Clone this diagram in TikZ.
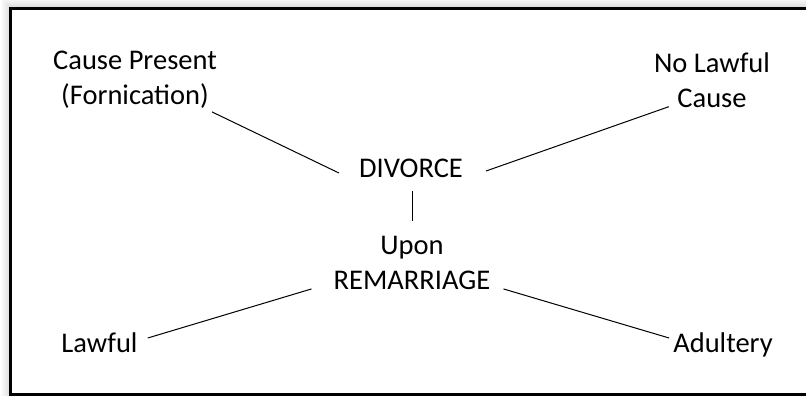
\documentclass[tikz,border=0pt]{standalone}
\usepackage{fontspec}
\setmainfont{Carlito}
\usetikzlibrary{calc}
\begin{document}
\begin{tikzpicture}[x=1pt,y=-1pt,
  lbl/.style={inner sep=0pt, align=center, font=\fontsize{28.5}{35}\selectfont},
  conn/.style={line width=1pt, black}]
\useasboundingbox (0,0) rectangle (806,396);
\fill[white] (0,0) rectangle (806,396);
\foreach \i in {10,...,1}{\pgfmathsetmacro\g{(11-\i)*1.4}
  \fill[black!\g] (10.5-\i,8.5-\i) rectangle (830,420);}
\fill[white] (10.5,8.5) rectangle (830,420);
\draw[line width=3pt] (10.5,8.5) rectangle (830,394.5);
% nodes
\node[lbl] (cp) at (135,80) {Cause Present\\(Fornication)};
\node[lbl] (nl) at (712,80) {No Lawful\\Cause};
\node[lbl, anchor=base] (div) at (411,177) {DIVORCE};
\node[lbl] (rem) at (412,263) {Upon\\REMARRIAGE};
\node[lbl, anchor=base] (law) at (99.5,352) {Lawful};
\node[lbl, anchor=base] (adu) at (723,352) {Adultery};
% connectors
\draw[conn] ($(cp.south east)+(-5,3)$) -- ($(div.base west)+(-20,-4)$);
\draw[conn] ($(div.base east)+(23,-6)$) -- ($(nl.south west)+(15,-1)$);
\draw[conn] ($(div.base)+(1,14)$) -- ($(rem.north)+(0,-15)$);
\draw[conn] ($(rem.south west)+(-22,-1)$) -- ($(law.base east)+(10,-14)$);
\draw[conn] ($(rem.south east)+(13,-1)$) -- ($(adu.base west)+(-4,-14)$);
\end{tikzpicture}
\end{document}
